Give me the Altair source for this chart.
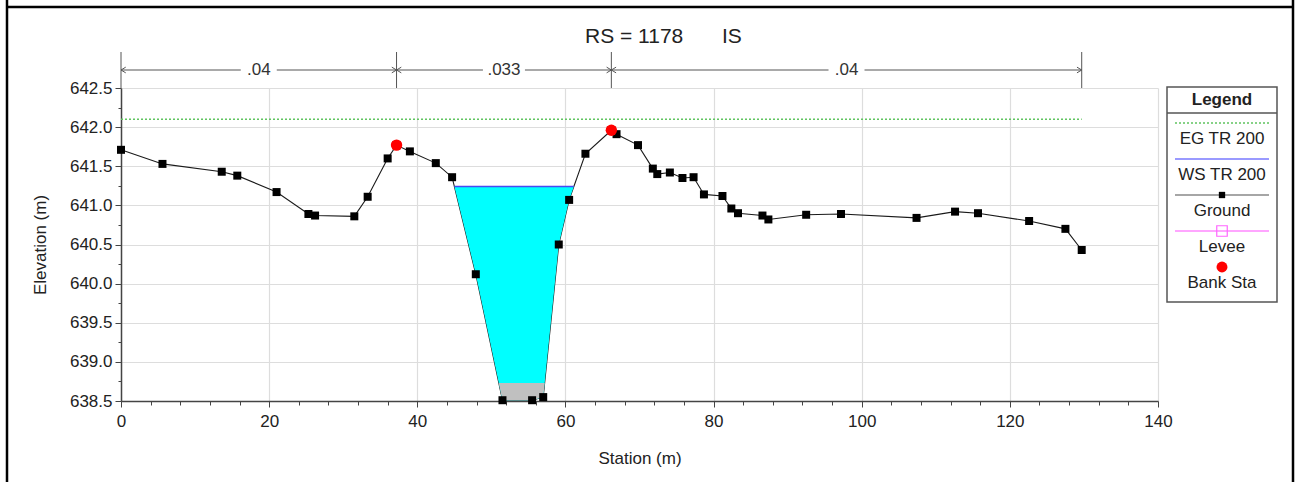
import altair as alt
import pandas as pd

# ---- cross-section data -------------------------------------------------
station = [0.0, 5.6, 13.6, 15.7, 21.0, 25.3, 26.2, 31.5, 33.3, 36.0, 37.2,
           39.0, 42.5, 44.7, 47.9, 51.5, 55.5, 57.0, 59.1, 60.5, 62.7, 66.2,
           66.9, 69.8, 71.8, 72.4, 74.1, 75.8, 77.3, 78.7, 81.2, 82.4, 83.3,
           86.6, 87.4, 92.5, 97.2, 107.4, 112.6, 115.7, 122.6, 127.5, 129.7]
elevation = [641.71, 641.53, 641.43, 641.38, 641.17, 640.89, 640.87, 640.86,
             641.11, 641.60, 641.77, 641.69, 641.54, 641.36, 640.12, 638.51,
             638.51, 638.55, 640.50, 641.07, 641.66, 641.96, 641.91, 641.77,
             641.47, 641.40, 641.42, 641.35, 641.36, 641.14, 641.12, 640.96,
             640.90, 640.87, 640.82, 640.88, 640.89, 640.84, 640.92, 640.90,
             640.80, 640.70, 640.43]
bank_sta = [37.2, 66.2]
bank_elev = [641.77, 641.96]
ws_elev = 641.24          # WS TR 200
eg_elev = 642.10          # EG TR 200
grey_top = 638.73         # grey fill level at the channel bottom
n_breaks = [0.0, 37.2, 66.2, 129.7]
n_values = [".04", ".033", ".04"]
legend_labels = ["EG TR 200", "WS TR 200", "Ground", "Levee", "Bank Sta"]
title_rs = "RS = 1178"
title_tag = "IS"

W, H = 1037, 313
X_MAX = 140
FONT = "Liberation Sans"
TXT = "#222222"
EG_COLOR = "#5fc45f"

ground = pd.DataFrame({"sta": station, "elev": elevation})


def channel_fill(level):
    """Ground points below `level` between the bank stations, closed at the
    two crossings of the ground line with `level`."""
    rows = []
    for i in range(len(station) - 1):
        x0, y0, x1, y1 = station[i], elevation[i], station[i + 1], elevation[i + 1]
        if not (bank_sta[0] <= x0 and x1 <= bank_sta[1]):
            continue
        if y0 >= level > y1 or y0 < level <= y1:
            xc = x0 + (y0 - level) / (y0 - y1) * (x1 - x0)
            rows.append((xc, level))
            if y0 >= level:
                rows.append((x1, y1))
        elif y0 < level and y1 < level:
            rows.append((x1, y1))
    df = pd.DataFrame(rows, columns=["sta", "elev"])
    df["top"] = level
    return df


water = channel_fill(ws_elev)
grey = channel_fill(grey_top)

xs = alt.Scale(domain=[0, X_MAX], nice=False, zero=False)
ys = alt.Scale(domain=[638.5, 642.5], nice=False, zero=False)

x_major = "datum.value % 20 == 0"
y_major = "round(datum.value * 4) % 2 == 0"

x_axis = alt.Axis(
    values=list(range(0, X_MAX + 1, 4)), tickCount=200,
    labelExpr=f"{x_major} ? format(datum.value, 'd') : ''",
    title="Station (m)", grid=True, gridColor="#dddddd", gridWidth=1.2,
    gridOpacity={"condition": {"test": x_major, "value": 1}, "value": 0},
    tickSize={"condition": {"test": x_major, "value": 6}, "value": 4},
    tickColor="#444444", domainColor="#444444", domainWidth=1.5,
    labelFont=FONT, labelFontSize=17, labelColor=TXT, labelPadding=6,
    labelOverlap=False, labelFlush=False,
    titleFont=FONT, titleFontSize=17, titleFontWeight="normal", titleColor=TXT,
    titleY=57, titleBaseline="middle",
)
y_axis = alt.Axis(
    values=[638.5 + 0.25 * i for i in range(17)], tickCount=200,
    labelExpr=f"{y_major} ? format(datum.value, '.1f') : ''",
    title="Elevation (m)", grid=True, gridColor="#dddddd", gridWidth=1.2,
    gridOpacity={"condition": {"test": y_major, "value": 1}, "value": 0},
    tickSize={"condition": {"test": y_major, "value": 6}, "value": 3},
    tickColor="#444444", domainColor="#444444", domainWidth=1.5,
    labelFont=FONT, labelFontSize=17, labelColor=TXT, labelPadding=3,
    labelOverlap=False, labelFlush=False,
    titleFont=FONT, titleFontSize=17, titleFontWeight="normal", titleColor=TXT,
    titleX=-81, titleY=H / 2, titleAlign="center", titleBaseline="middle",
)


def X(f="sta"):
    return alt.X(f"{f}:Q", scale=xs, title="Station (m)")


def Y(f="elev"):
    return alt.Y(f"{f}:Q", scale=ys, title="Elevation (m)")


# the ground layer carries both axes; the other layers share its scales
ground_line = alt.Chart(ground).mark_line(color="#1a1a1a", strokeWidth=1.1).encode(
    x=alt.X("sta:Q", scale=xs, axis=x_axis),
    y=alt.Y("elev:Q", scale=ys, axis=y_axis))
ground_pts = alt.Chart(ground).mark_point(
    shape="square", filled=True, size=64, color="black", opacity=1).encode(
    x=X(), y=Y())

# water between the ground and the water surface
water_area = alt.Chart(water).mark_area(color="#00ffff", opacity=1).encode(
    x=X(), y=Y(), y2="top:Q")
grey_area = alt.Chart(grey).mark_area(color="#c0c0c0", opacity=1).encode(
    x=X(), y=Y(), y2="top:Q")
ws_line = alt.Chart(water.iloc[[0, -1]].assign(elev=ws_elev)).mark_line(
    color="#4a4af0", strokeWidth=1.5).encode(x=X(), y=Y())

eg_df = pd.DataFrame({"sta": [station[0], station[-1]], "elev": [eg_elev] * 2})
eg_line = alt.Chart(eg_df).mark_line(
    color=EG_COLOR, strokeWidth=1.4, strokeDash=[2, 2]).encode(x=X(), y=Y())

bank_df = pd.DataFrame({"sta": bank_sta, "elev": bank_elev})
bank_pts = alt.Chart(bank_df).mark_point(
    shape="circle", filled=True, size=130, color="#ff0000", opacity=1).encode(
    x=X(), y=Y())

# ---- Manning's n bar above the plot --------------------------------------
px_per_m = W / X_MAX
seg = []
for a, b, lab in zip(n_breaks[:-1], n_breaks[1:], n_values):
    mid = (a + b) / 2
    half = (9 + 3 * len(lab)) / px_per_m
    seg.append({"sta": a, "sta2": mid - half})
    seg.append({"sta": mid + half, "sta2": b})
seg_df = pd.DataFrame(seg)
n_lab_df = pd.DataFrame({"sta": [(a + b) / 2 for a, b in zip(n_breaks[:-1], n_breaks[1:])],
                         "lab": n_values})
brk_df = pd.DataFrame({"sta": n_breaks})
N_Y = -18
ncol = "#555555"
n_hlines = alt.Chart(seg_df).mark_rule(color=ncol, strokeWidth=1).encode(
    x=X(), x2="sta2:Q", y=alt.value(N_Y))
n_vlines = alt.Chart(brk_df).mark_rule(color=ncol, strokeWidth=1).encode(
    x=X(), y=alt.value(-36), y2=alt.value(0))
n_left = alt.Chart(pd.DataFrame({"sta": n_breaks[:-1]})).mark_point(
    shape="M1,-0.6L0,0L1,0.6", filled=False, size=90, color=ncol,
    strokeWidth=1, opacity=1).encode(x=X(), y=alt.value(N_Y))
n_right = alt.Chart(pd.DataFrame({"sta": n_breaks[1:]})).mark_point(
    shape="M-1,-0.6L0,0L-1,0.6", filled=False, size=90, color=ncol,
    strokeWidth=1, opacity=1).encode(x=X(), y=alt.value(N_Y))
n_text = alt.Chart(n_lab_df).mark_text(
    font=FONT, fontSize=17, color="#333333", baseline="middle", align="center").encode(
    x=X(), y=alt.value(N_Y), text="lab:N")

# ---- pixel-placed furniture (title, legend, frame) -----------------------
one = pd.DataFrame({"k": [0]})


def rule(x1, x2, y1, y2, color, width=1.0, dash=None):
    kw = {"color": color, "strokeWidth": width}
    if dash:
        kw["strokeDash"] = dash
    return alt.Chart(one).mark_rule(**kw).encode(
        x=alt.value(x1), x2=alt.value(x2), y=alt.value(y1), y2=alt.value(y2))


def text(s, x, y, size=17, align="center", weight="normal"):
    return alt.Chart(one).mark_text(
        text=s, font=FONT, fontSize=size, color=TXT, align=align,
        baseline="middle", fontWeight=weight).encode(x=alt.value(x), y=alt.value(y))


def symbol(x, y, shape, size, color, filled=True):
    return alt.Chart(one).mark_point(
        shape=shape, size=size, color=color, filled=filled, opacity=1,
        strokeWidth=1.2).encode(x=alt.value(x), y=alt.value(y))


title_layers = [text(title_rs, 464, -51, size=21, align="left"),
                text(title_tag, 601, -51, size=21, align="left")]

LX0, LX1, LY0, LY1 = 1046, 1156, -1, 214
LCX = (LX0 + LX1) / 2
lx0, lx1 = 1054, 1148
box = alt.Chart(one).mark_rect(fill="white", stroke="#555555", strokeWidth=1.5).encode(
    x=alt.value(LX0), x2=alt.value(LX1), y=alt.value(LY0), y2=alt.value(LY1))
legend_layers = [box, text("Legend", LCX, 12, weight="bold"),
                 rule(LX0, LX1, 25, 25, "#555555", 1.5)]
line_y = [35 + 36 * i for i in range(len(legend_labels))]
legend_layers += [
    rule(lx0, lx1, line_y[0], line_y[0], EG_COLOR, 1.4, [2, 2]),
    rule(lx0, lx1, line_y[1], line_y[1], "#9a9aff", 2),
    rule(lx0, lx1, line_y[2], line_y[2], "#888888", 1.5),
    symbol(LCX, line_y[2], "square", 40, "black"),
    rule(lx0, lx1, line_y[3], line_y[3], "#ff88ff", 1.5),
    symbol(LCX, line_y[3], "square", 110, "#ff66ff", filled=False),
    symbol(LCX, line_y[4], "circle", 120, "#ff0000"),
]
legend_layers += [text(lab, LCX, y + 16) for lab, y in zip(legend_labels, line_y)]

frame = [rule(-114, -114, -88, 394, "black", 2.5),
         rule(-114, 1172, -81, -81, "black", 2.5),
         rule(1172, 1172, -88, 394, "black", 2.5)]

chart = alt.layer(
    ground_line, water_area, grey_area, ws_line, eg_line, ground_pts, bank_pts,
    n_hlines, n_vlines, n_left, n_right, n_text,
    *title_layers, *legend_layers, *frame,
).properties(
    width=W, height=H,
    padding={"left": 121, "top": 88, "right": 138, "bottom": 81},
    autosize=alt.AutoSizeParams(type="none"),
    background="white",
).configure_view(stroke=None)

chart.save("out.html", embed_options={"renderer": "svg", "actions": False})
